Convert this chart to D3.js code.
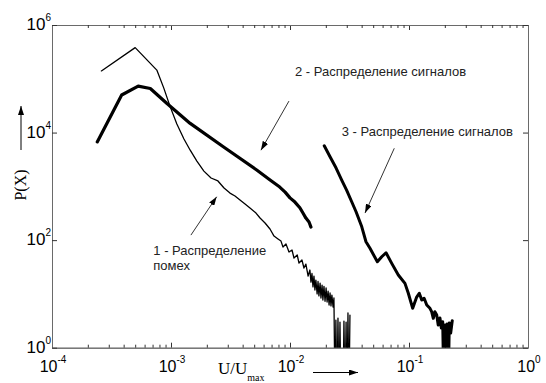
<!DOCTYPE html>
<html>
<head>
<meta charset="utf-8">
<script src="https://cdn.jsdelivr.net/npm/d3@7"></script>
<style>
  html, body { margin: 0; padding: 0; background: #fff; }
  svg { display: block; }
</style>
</head>
<body>
<svg id="chart" width="546" height="383"></svg>
<script>
// Histogram of interference (curve 1) and of signal amplitudes (curves 2, 3), log-log axes.

// Curve 1 - noise distribution
const noiseU = [2.6e-4, 5.0e-4, 7.6e-4, 8.7e-4, 9.8e-4, 1.12e-3, 1.285e-3, 1.45e-3, 1.65e-3, 1.89e-3,
  2.17e-3, 2.48e-3, 2.79e-3, 3.13e-3, 3.45e-3, 3.80e-3, 4.19e-3, 4.61e-3, 5.18e-3, 5.60e-3,
  6.17e-3, 6.79e-3, 7.34e-3, 7.93e-3, 8.40e-3, 8.73e-3, 9.25e-3, 9.81e-3, 1.04e-2, 1.08e-2,
  1.15e-2, 1.19e-2, 1.26e-2, 1.31e-2, 1.36e-2, 1.42e-2, 1.47e-2, 1.50e-2, 1.53e-2, 1.56e-2,
  1.59e-2, 1.62e-2, 1.65e-2, 1.69e-2, 1.72e-2, 1.75e-2, 1.79e-2, 1.82e-2, 1.86e-2, 1.89e-2,
  1.93e-2, 1.97e-2, 2.01e-2, 2.05e-2, 2.09e-2, 2.13e-2, 2.17e-2, 2.21e-2, 2.25e-2, 2.30e-2,
  2.34e-2, 2.39e-2, 2.43e-2, 2.48e-2, 2.53e-2, 2.58e-2, 2.63e-2, 2.68e-2, 2.73e-2, 2.79e-2,
  2.84e-2, 2.90e-2, 2.96e-2, 3.01e-2, 3.07e-2, 3.13e-2, 3.19e-2];
const noiseP = [1.4e5, 3.8e5, 1.45e5, 6.7e4, 3.1e4, 1.44e4, 7.6e3, 4.7e3, 2.95e3, 1.92e3,
  1.43e3, 1.26e3, 930, 750, 660, 556, 469, 395, 319, 258,
  208, 161, 119, 105, 96, 74.5, 84.6, 60.1, 65.5, 46.5,
  52.9, 37.5, 42.7, 30.3, 35.9, 21.5, 27.8, 16.6, 24.0, 13.5,
  21.5, 11.8, 18.1, 10.0, 17.0, 9.2, 15.9, 8.4, 14.6, 7.7,
  13.8, 7.3, 12.9, 7.07, 11.3, 6.22, 10.4, 6.0, 9.5, 5.71,
  8.4, 0, 3.27, 0, 3.56, 0, 3.0, 0, 0, 0,
  3.13, 0, 3.0, 0, 4.42, 0, 4.05, 0];

// Curve 2 - signal distribution
const sig2U = [2.4e-4, 3.85e-4, 5.3e-4, 6.7e-4, 9.2e-4, 1.45e-3, 2.75e-3, 5.25e-3, 6.8e-3,
  8.2e-3, 9.1e-3, 1.0e-2, 1.10e-2, 1.21e-2, 1.285e-2, 1.36e-2, 1.445e-2, 1.50e-2];
const sig2P = [6.7e3, 5.0e4, 7.3e4, 6.6e4, 3.5e4, 1.48e4, 5.45e3, 2.01e3, 1.31e3,
  970, 780, 610, 510, 400, 319, 257, 217, 175];

// Curve 3 - signal distribution
const sig3U = [1.94e-2, 2.17e-2, 2.44e-2, 2.72e-2, 2.99e-2, 3.30e-2, 3.59e-2, 4.01e-2, 4.35e-2, 4.70e-2,
  5.42e-2, 5.90e-2, 6.41e-2, 7.16e-2, 8.13e-2, 9.25e-2, 9.87e-2, 0.1074, 0.116, 0.122,
  0.128, 0.134, 0.141, 0.150, 0.155, 0.160, 0.165, 0.171, 0.176, 0.182,
  0.187, 0.192, 0.197, 0.201, 0.205, 0.209, 0.213, 0.218, 0.224, 0.231];
const sig3P = [5.69e3, 3.55e3, 2.19e3, 1.31e3, 853, 517, 337, 177, 93.4, 70.4,
  39.7, 49.1, 58.3, 37.0, 22.5, 15.7, 10.3, 5.4, 8.75, 10.3,
  7.7, 8.28, 6.22, 5.4, 4.67, 3.52, 4.67, 4.05, 2.64, 3.56,
  2.32, 3.04, 0, 2.64, 0, 2.76, 0, 2.88, 1.88, 3.18];

// Axis ticks
const xMajor = [1e-4, 1e-3, 1e-2, 1e-1, 1];
const xExp = ["-4", "-3", "-2", "-1", "0"];
const yMajor = [1, 1e2, 1e4, 1e6];
const yExp = ["0", "2", "4", "6"];

// Annotations: label position, arrow start and arrow tip, all in data units
const notes = [
  { text: ["2 - Распределение сигналов"], at: [1.10e-2, 1.12e5], from: [9.8e-3, 3.85e4], to: [5.7e-3, 4.7e3] },
  { text: ["3 - Распределение сигналов"], at: [2.72e-2, 8.6e3], from: [7.52e-2, 5.1e3], to: [4.27e-2, 319] },
  { text: ["1 - Распределение", "помех"], at: [7.1e-4, 52.8], from: [1.47e-3, 124], to: [2.42e-3, 641] }
];

const svg = d3.select("#chart");
const plot = { left: 52, right: 528, top: 25, bottom: 347.7 };

const x = d3.scaleLog().domain([1e-4, 1]).range([plot.left, plot.right]);
const y = d3.scaleLog().domain([1, 1e6]).range([plot.bottom, plot.top]);
const FLOOR = 0.1; // empty bins fall below the axis and are clipped

const defs = svg.append("defs");
defs.append("clipPath").attr("id", "clip")
  .append("rect")
  .attr("x", plot.left).attr("y", plot.top)
  .attr("width", plot.right - plot.left).attr("height", plot.bottom - plot.top);
defs.append("marker")
  .attr("id", "head").attr("viewBox", "0 0 10 10")
  .attr("refX", 10).attr("refY", 5)
  .attr("markerWidth", 9).attr("markerHeight", 6)
  .attr("markerUnits", "userSpaceOnUse")
  .attr("preserveAspectRatio", "none")
  .attr("orient", "auto")
  .append("path").attr("d", "M0,0L10,5L0,10z").attr("fill", "#000");

// Axes: ticks point inward on all four sides
const axisColor = "#6a6a6a";
const minor = x.ticks().filter(v => !xMajor.some(m => Math.abs(m - v) / m < 1e-9));

function styleAxis(g) {
  g.selectAll("path.domain").attr("stroke", axisColor).attr("stroke-width", 1);
  g.selectAll(".tick line").attr("stroke", "#333").attr("stroke-width", 1);
  g.selectAll(".tick text").remove();
}

svg.append("g").attr("transform", `translate(0,${plot.bottom})`)
  .call(d3.axisBottom(x).tickValues(xMajor).tickSize(-5).tickSizeOuter(0).tickFormat(""))
  .call(styleAxis);
svg.append("g").attr("transform", `translate(0,${plot.bottom})`)
  .call(d3.axisBottom(x).tickValues(minor).tickSize(-3).tickSizeOuter(0).tickFormat(""))
  .call(styleAxis);
svg.append("g").attr("transform", `translate(0,${plot.top})`)
  .call(d3.axisTop(x).tickValues(xMajor).tickSize(-5).tickSizeOuter(0).tickFormat(""))
  .call(styleAxis);
svg.append("g").attr("transform", `translate(0,${plot.top})`)
  .call(d3.axisTop(x).tickValues(minor).tickSize(-3).tickSizeOuter(0).tickFormat(""))
  .call(styleAxis);
svg.append("g").attr("transform", `translate(${plot.left},0)`)
  .call(d3.axisLeft(y).tickValues(yMajor).tickSize(-5).tickSizeOuter(0).tickFormat(""))
  .call(styleAxis);
svg.append("g").attr("transform", `translate(${plot.right},0)`)
  .call(d3.axisRight(y).tickValues(yMajor).tickSize(-5).tickSizeOuter(0).tickFormat(""))
  .call(styleAxis);

// Tick labels written as 10 with a raised exponent
const sans = "'Liberation Sans', Arial, Helvetica, sans-serif";
const serif = "'Liberation Serif', 'Times New Roman', serif";

xMajor.forEach((v, i) => {
  const t = svg.append("text")
    .attr("x", x(v) + 1).attr("y", plot.bottom + 24)
    .attr("text-anchor", "middle")
    .attr("font-family", sans).attr("font-size", 16).attr("fill", "#000");
  t.append("tspan").text("10");
  t.append("tspan").attr("dy", -9).attr("font-size", 10).text(xExp[i]);
});
yMajor.forEach((v, i) => {
  const t = svg.append("text")
    .attr("x", plot.left - 1).attr("y", y(v) + 5)
    .attr("text-anchor", "end")
    .attr("font-family", sans).attr("font-size", 17).attr("fill", "#000");
  t.append("tspan").text("10");
  t.append("tspan").attr("dy", -9).attr("font-size", 10).text(yExp[i]);
});

// Curves
const line = d3.line()
  .x(d => x(d[0]))
  .y(d => y(Math.max(d[1], FLOOR)));

const curves = svg.append("g").attr("clip-path", "url(#clip)")
  .attr("fill", "none").attr("stroke", "#000")
  .attr("stroke-linejoin", "round").attr("stroke-linecap", "round");

curves.append("path").datum(d3.zip(noiseU, noiseP))
  .attr("d", line).attr("stroke-width", 1.3);
curves.append("path").datum(d3.zip(sig2U, sig2P))
  .attr("d", line).attr("stroke-width", 3.2);
curves.append("path").datum(d3.zip(sig3U, sig3P))
  .attr("d", line).attr("stroke-width", 3);

// Annotations
notes.forEach(n => {
  svg.append("line")
    .attr("x1", x(n.from[0])).attr("y1", y(n.from[1]))
    .attr("x2", x(n.to[0])).attr("y2", y(n.to[1]))
    .attr("stroke", "#333").attr("stroke-width", 1)
    .attr("marker-end", "url(#head)");
  const t = svg.append("text")
    .attr("x", x(n.at[0])).attr("y", y(n.at[1]))
    .attr("font-family", sans).attr("font-size", 13).attr("fill", "#222");
  n.text.forEach((s, k) => {
    t.append("tspan").attr("x", x(n.at[0])).attr("dy", k === 0 ? 0 : 14.5).text(s);
  });
});

// Axis titles with direction arrows
svg.append("text")
  .attr("transform", "translate(26,185) rotate(-90)")
  .attr("text-anchor", "middle")
  .attr("font-family", serif).attr("font-size", 16).attr("fill", "#000")
  .text("P(X)");
svg.append("line")
  .attr("x1", 21).attr("y1", 150).attr("x2", 21).attr("y2", 106)
  .attr("stroke", "#000").attr("stroke-width", 1)
  .attr("marker-end", "url(#head)");

const xt = svg.append("text")
  .attr("x", 218).attr("y", 374)
  .attr("font-family", serif).attr("font-size", 17).attr("fill", "#000");
xt.append("tspan").text("U/U");
xt.append("tspan").attr("dy", 7).attr("font-size", 10).text("max");
svg.append("line")
  .attr("x1", 313).attr("y1", 372.5).attr("x2", 358).attr("y2", 372.5)
  .attr("stroke", "#000").attr("stroke-width", 1)
  .attr("marker-end", "url(#head)");
</script>
</body>
</html>
